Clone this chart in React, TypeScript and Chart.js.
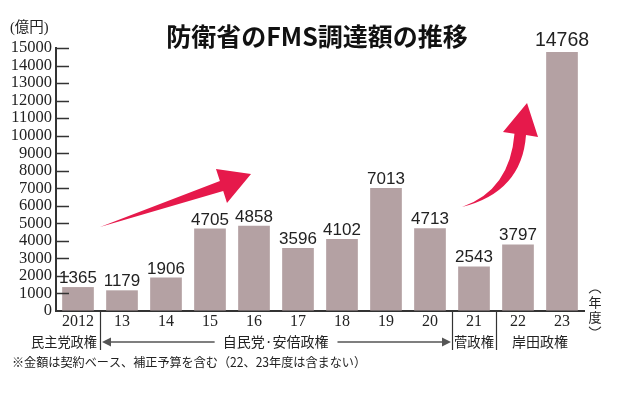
import { useEffect, useRef } from 'react';
import { Chart, registerables } from 'chart.js';

Chart.register(...registerables);

const TITLE = '防衛省のFMS調達額の推移';
const UNIT = '(億円)';
const FOOTNOTE = '※金額は契約ベース、補正予算を含む（22、23年度は含まない）';
const YEAR_UNIT = ['年', '度'];

const categories = ['2012', '13', '14', '15', '16', '17', '18', '19', '20', '21', '22', '23'];
const values = [1365, 1179, 1906, 4705, 4858, 3596, 4102, 7013, 4713, 2543, 3797, 14768];
const yMin = 0;
const yMax = 15000;
const yStep = 1000;
const eraLabels = ['民主党政権', '自民党·安倍政権', '菅政権', '岸田政権'];

const SERIF = '"Liberation Serif", "DejaVu Serif", serif';
const JP = '"Noto Sans CJK JP", sans-serif';
const SANS = '"Liberation Sans", Arial, sans-serif';
const TEXT = '#222222';
const RED = '#e6194b';

const decorPlugin = {
  id: 'decor',
  afterDraw(chart: any) {
    const ctx: CanvasRenderingContext2D = chart.ctx;
    const xs = chart.scales.x;
    const ys = chart.scales.y;
    const area = chart.chartArea;
    const P = (ix: number, v: number): [number, number] => [xs.getPixelForValue(ix), ys.getPixelForValue(v)];
    ctx.save();

    // inward y ticks
    ctx.strokeStyle = '#333';
    ctx.lineWidth = 1.5;
    ys.ticks.forEach((t: any) => {
      if (t.value === yMin) return;
      const py = Math.round(ys.getPixelForValue(t.value)) + 0.5;
      ctx.beginPath();
      ctx.moveTo(area.left, py);
      ctx.lineTo(area.left + 13, py);
      ctx.stroke();
    });

    // value labels
    const meta = chart.getDatasetMeta(0);
    const maxV = Math.max(...values);
    ctx.fillStyle = TEXT;
    ctx.textAlign = 'center';
    ctx.textBaseline = 'alphabetic';
    meta.data.forEach((bar: any, i: number) => {
      const big = values[i] === maxV;
      ctx.font = (big ? '19.5px ' : '17px ') + SANS;
      ctx.fillText(String(values[i]), bar.x, bar.y - (big ? 6 : 4));
    });

    // title & unit
    ctx.font = 'bold 25px ' + JP;
    ctx.textBaseline = 'middle';
    ctx.fillStyle = '#111';
    ctx.fillText(TITLE, 317, 36, 302);
    ctx.font = '14.5px "Liberation Serif", ' + JP;
    ctx.textAlign = 'left';
    ctx.fillStyle = TEXT;
    ctx.fillText(UNIT, 10, 28, 44);

    // arrow 1 (straight, tapered)
    ctx.fillStyle = RED;
    const a1 = [P(0.5, 4791), P(3.225, 7420), P(3.136, 8099), P(3.932, 7814), P(3.386, 6160), P(3.3, 6838)];
    ctx.beginPath();
    a1.forEach((p, i) => (i ? ctx.lineTo(p[0], p[1]) : ctx.moveTo(p[0], p[1])));
    ctx.closePath();
    ctx.fill();

    // arrow 2 (curved)
    const T = P(8.727, 5932);
    const nI = P(9.92, 10112);
    const bL = P(9.659, 10209);
    const tip = P(10.205, 11863);
    const bR = P(10.455, 9924);
    const nO = P(10.182, 10038);
    const cO = P(10.09, 6787);
    const cI = P(9.818, 6901);
    ctx.beginPath();
    ctx.moveTo(T[0], T[1]);
    ctx.quadraticCurveTo(cI[0], cI[1], nI[0], nI[1]);
    ctx.lineTo(bL[0], bL[1]);
    ctx.lineTo(tip[0], tip[1]);
    ctx.lineTo(bR[0], bR[1]);
    ctx.lineTo(nO[0], nO[1]);
    ctx.quadraticCurveTo(cO[0], cO[1], T[0], T[1]);
    ctx.closePath();
    ctx.fill();

    // bottom era area
    const bx = (ix: number) => xs.getPixelForValue(ix);
    const sepTop = area.bottom;
    const sepBottom = area.bottom + 39;
    ctx.strokeStyle = '#333';
    ctx.lineWidth = 1.2;
    [0.5, 8.5, 9.5].forEach((b) => {
      const px = Math.round(bx(b)) + 0.5;
      ctx.beginPath();
      ctx.moveTo(px, sepTop);
      ctx.lineTo(px, sepBottom);
      ctx.stroke();
    });

    const eraY = area.bottom + 31;
    ctx.font = '14px ' + JP;
    ctx.fillStyle = TEXT;
    ctx.textBaseline = 'middle';
    ctx.textAlign = 'right';
    ctx.fillText(eraLabels[0], bx(0.5) - 3, eraY, 66);
    ctx.textAlign = 'center';
    const abeX = bx(4.49);
    ctx.fillText(eraLabels[1], abeX, eraY, 106);
    ctx.fillText(eraLabels[2], bx(9), eraY, 40);
    ctx.fillText(eraLabels[3], bx(10.5), eraY, 58);

    const abeW = Math.min(ctx.measureText(eraLabels[1]).width, 106);
    const leftEnd = abeX - abeW / 2 - 8;
    const rightStart = abeX + abeW / 2 + 9;
    ctx.strokeStyle = '#555';
    ctx.fillStyle = '#555';
    ctx.lineWidth = 1.5;
    const lTip = bx(0.5) + 2;
    const rTip = bx(8.5) - 1;
    ctx.beginPath();
    ctx.moveTo(lTip + 6, eraY);
    ctx.lineTo(leftEnd, eraY);
    ctx.moveTo(rightStart, eraY);
    ctx.lineTo(rTip - 6, eraY);
    ctx.stroke();
    ctx.beginPath();
    ctx.moveTo(lTip, eraY);
    ctx.lineTo(lTip + 9, eraY - 4.5);
    ctx.lineTo(lTip + 9, eraY + 4.5);
    ctx.closePath();
    ctx.fill();
    ctx.beginPath();
    ctx.moveTo(rTip, eraY);
    ctx.lineTo(rTip - 9, eraY - 4.5);
    ctx.lineTo(rTip - 9, eraY + 4.5);
    ctx.closePath();
    ctx.fill();

    // footnote
    ctx.fillStyle = TEXT;
    ctx.textAlign = 'left';
    ctx.font = '12.5px ' + JP;
    ctx.fillText(FOOTNOTE, 12, area.bottom + 51, 354);

    // vertical (年度)
    const vx = area.right + 11;
    ctx.textAlign = 'center';
    ctx.font = '13px ' + JP;
    ctx.fillText(YEAR_UNIT[0], vx, area.bottom - 9);
    ctx.fillText(YEAR_UNIT[1], vx, area.bottom + 6);
    ctx.strokeStyle = TEXT;
    ctx.lineWidth = 1.1;
    ctx.beginPath();
    ctx.arc(vx, area.bottom - 14, 7, Math.PI * 1.18, Math.PI * 1.82);
    ctx.stroke();
    ctx.beginPath();
    ctx.arc(vx, area.bottom + 12, 7, Math.PI * 0.18, Math.PI * 0.82);
    ctx.stroke();

    ctx.restore();
  },
};

export default function App() {
  const ref = useRef<HTMLCanvasElement | null>(null);
  useEffect(() => {
    if (!ref.current) return;
    const chart = new Chart(ref.current, {
      type: 'bar',
      data: {
        labels: categories,
        datasets: [
          {
            data: values,
            backgroundColor: '#b4a1a3',
            borderWidth: 0,
            barPercentage: 0.72,
            categoryPercentage: 1,
          },
        ],
      },
      options: {
        animation: false,
        responsive: false,
        devicePixelRatio: 1,
        events: [],
        layout: { padding: { left: 0, right: 41, top: 48, bottom: 58 } },
        plugins: { legend: { display: false }, tooltip: { enabled: false }, title: { display: false } },
        scales: {
          x: {
            afterFit: (s: any) => {
              s.height = 30;
            },
            grid: { display: true, drawOnChartArea: false, drawTicks: false },
            border: { display: true, color: '#333', width: 2 },
            ticks: { color: TEXT, font: { family: SERIF, size: 16 }, padding: 1, maxRotation: 0, autoSkip: false },
          },
          y: {
            min: yMin,
            max: yMax,
            afterFit: (s: any) => {
              s.width = 56;
            },
            grid: { display: true, drawOnChartArea: false, drawTicks: false },
            border: { display: true, color: '#333', width: 2 },
            ticks: {
              stepSize: yStep,
              color: TEXT,
              font: { family: SERIF, size: 16.5 },
              padding: 4,
              autoSkip: false,
              callback: (v: any) => String(v),
            },
          },
        },
      },
      plugins: [decorPlugin],
    });
    return () => chart.destroy();
  }, []);
  return (
    <div style={{ position: 'absolute', left: 0, top: 0, width: 625, height: 399, background: '#fff' }}>
      <canvas ref={ref} width={625} height={399} style={{ width: 625, height: 399, display: 'block' }} />
    </div>
  );
}
